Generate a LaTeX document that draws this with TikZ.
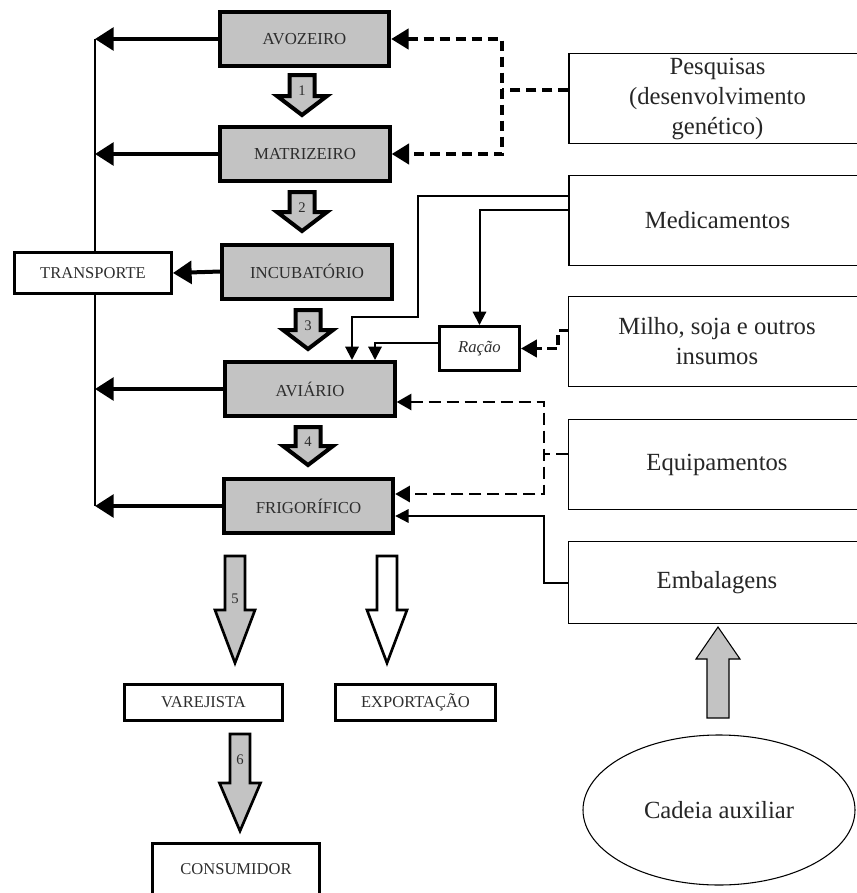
\documentclass[tikz,border=0pt]{standalone}
\usepackage{fontspec}
\setmainfont{Liberation Serif}
\usetikzlibrary{arrows.meta,shapes.geometric,calc}
\definecolor{boxgray}{RGB}{195,195,195}
\definecolor{txtgray}{RGB}{45,45,45}
\newcommand{\dblock}[7]{%
  \draw[#7] (#1-#5,#2) -- (#1+#5,#2) -- (#1+#5,#3) -- (#1+#6,#3) -- (#1,#4) -- (#1-#6,#3) -- (#1-#5,#3) -- cycle;}
\begin{document}
\begin{tikzpicture}[x=0.75pt,y=-0.75pt,
  gbox/.style={draw, fill=boxgray, line width=3pt, minimum width=127pt, minimum height=40.5pt, inner sep=0pt, font=\fontsize{12.6}{14}\selectfont, text=txtgray},
  wbox/.style={draw, line width=2.2pt, inner sep=0pt, font=\fontsize{12.4}{14}\selectfont, text=txtgray},
  rbox/.style={draw, line width=0.8pt, minimum width=222.75pt, minimum height=68pt, inner sep=0pt, align=center, font=\fontsize{18.5}{22.5}\selectfont, text=black!85},
  bigarrow/.style={line width=3pt, -{Triangle[length=14pt,width=17pt]}},
  vline/.style={line width=1.6pt},
  pdash/.style={line width=3pt, dash pattern=on 7.5pt off 4.5pt},
  ptips/.style={{Triangle[length=13pt,width=15pt]}-{Triangle[length=13pt,width=15pt]}},
  medline/.style={line width=1.5pt, -{Triangle[length=10pt,width=10pt]}},
  edash/.style={line width=2pt, dash pattern=on 9pt off 4.5pt},
  etips/.style={{Triangle[length=11pt,width=12pt]}-{Triangle[length=11pt,width=12pt]}},
  mdash/.style={line width=2.5pt, dash pattern=on 7pt off 4pt, -{Triangle[length=12pt,width=13pt]}},
  sarrow/.style={draw, fill=boxgray, line width=3pt, line join=miter},
  barrow/.style={draw, fill=boxgray, line width=2pt, line join=miter},
  uarrow/.style={draw, fill=boxgray, line width=0.8pt, line join=miter},
  numlab/.style={font=\fontsize{11}{11}\selectfont, text=txtgray, inner sep=0pt}
]
\useasboundingbox (0,0) rectangle (857,893);

% main chain
\node[gbox] (av)  at (304.5,39)  {AVOZEIRO};
\node[gbox] (mat) at (305,154)   {MATRIZEIRO};
\node[gbox] (inc) at (307,271.5) {INCUBATÓRIO};
\node[gbox] (avi) at (310,389)   {AVIÁRIO};
\node[gbox] (fri) at (308.5,506) {FRIGORÍFICO};

\node[wbox, minimum width=117.75pt, minimum height=30.75pt] (tr) at (93,273) {TRANSPORTE};
\node[wbox, minimum width=118.5pt, minimum height=27pt] (var) at (203.5,702.5) {VAREJISTA};
\node[wbox, minimum width=120pt, minimum height=27pt] (exp) at (415.5,702.5) {EXPORTAÇÃO};
\node[wbox, minimum width=125pt, minimum height=38pt] (con) at (236,869) {CONSUMIDOR};
\node[wbox, minimum width=60pt, minimum height=33pt, font=\itshape\fontsize{12.5}{14}\selectfont] (rac) at (479.5,348.5) {Ração};

% auxiliary chain
\node[rbox] (pes) at (717.5,98.5)  {Pesquisas\\(desenvolvimento\\genético)};
\node[rbox] (med) at (717.5,220.5) {Medicamentos};
\node[rbox] (mil) at (717,341.5)   {Milho, soja e outros\\insumos};
\node[rbox] (equ) at (717,464.5)   {Equipamentos};
\node[rbox, minimum height=62pt] (emb) at (717,582.5) {Embalagens};
\node[draw, ellipse, line width=0.8pt, minimum width=204pt, minimum height=112.5pt, inner sep=0pt,
      font=\fontsize{18.5}{22.5}\selectfont, text=black!85] (cad) at (719,810) {Cadeia auxiliar};

% block arrows
\dblock{302}{75}{96}{115}{12.5}{25}{sarrow}
\dblock{302}{192}{212}{231}{12.5}{25}{sarrow}
\dblock{308}{310}{330}{349}{12.5}{25}{sarrow}
\dblock{308}{427}{446}{465}{12.5}{25}{sarrow}
\dblock{235}{556}{610}{663}{10}{20}{barrow}
\dblock{387}{556}{610}{663}{10}{20}{barrow, fill=white}
\dblock{240}{734}{783}{831}{10}{20.5}{barrow}
\dblock{718}{718}{659}{627}{11}{22}{uarrow}

\node[numlab] (n1) at (302,91)  {1};
\node[numlab] (n2) at (302,208) {2};
\node[numlab] (n3) at (308,326) {3};
\node[numlab] (n4) at (308,442) {4};
\node[numlab] (n5) at (235,599) {5};
\node[numlab] (n6) at (240,760) {6};

% transport line
\coordinate (ltop) at (95,39);
\coordinate (lbot) at (95,506);
\draw[vline] (ltop) -- (tr.north -| ltop);
\draw[vline] (tr.south -| ltop) -- (lbot);
\draw[bigarrow] (av.west)  -- (av.west -| ltop);
\draw[bigarrow] (mat.west) -- (mat.west -| ltop);
\draw[bigarrow] (avi.west) -- (avi.west -| ltop);
\draw[bigarrow] (fri.west) -- (fri.west -| ltop);
\draw[bigarrow] (inc.west) -- (tr.east);

% pesquisas
\coordinate (pj) at (502,90);
\draw[pdash] (pes.west |- pj) -- (pj);
\draw[pdash, ptips] (av.east) -| (mat.east -| pj) -- (mat.east);

% medicamentos
\coordinate (m1) at ($(med.north west)+(0,21)$);
\coordinate (m2) at ($(med.north west)+(0,35)$);
\coordinate (mk) at (418,317);
\coordinate (a1) at ($(avi.north)+(42,0)$);
\coordinate (a2) at ($(avi.north)+(65,0)$);
\draw[medline] (m1) -| (mk) -| (a1);
\draw[medline] (m2) -| (rac.north);
\draw[medline] ($(rac.west)+(0,-6)$) -| (a2);

% milho
\coordinate (ms) at ($(mil.west)+(0,-11)$);
\draw[mdash] (ms) -- ++(-10,0) |- (rac.east);

% equipamentos
\coordinate (ej) at (544,454);
\coordinate (ea) at ($(avi.east)+(0,13)$);
\coordinate (eb) at ($(fri.east)+(0,-12)$);
\draw[edash] (equ.west |- ej) -- (ej);
\draw[edash, etips] (ea) -| (eb -| ej) -- (eb);

% embalagens
\coordinate (ec) at (544,516);
\draw[medline] (emb.west) -| (ec) -- (fri.east |- ec);
\end{tikzpicture}
\end{document}
